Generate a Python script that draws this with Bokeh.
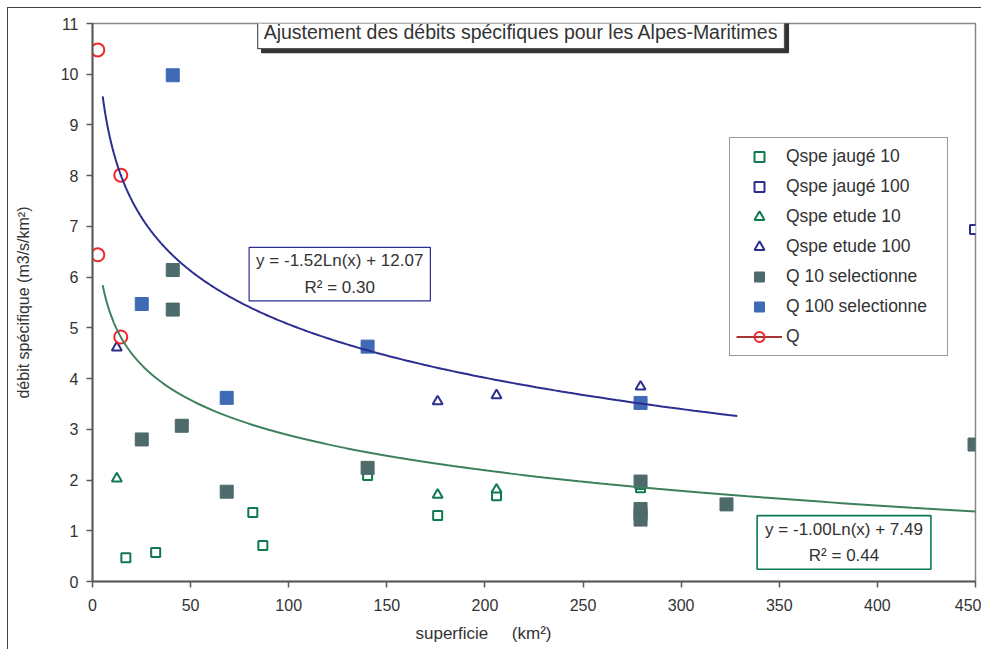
import numpy as np
from bokeh.plotting import figure
from bokeh.models import Range1d, FixedTicker, Legend, LegendItem, Label, Title
from bokeh.embed import file_html
from bokeh.resources import INLINE

FONT = "Liberation Sans"

# ---------------- data ----------------
jauge10_x = [17.0, 32.2, 81.7, 86.8, 140.2, 175.9, 205.9, 279.3]
jauge10_y = [0.47, 0.57, 1.36, 0.71, 2.09, 1.30, 1.69, 1.85]

jauge100_x = [449.5]
jauge100_y = [6.94]

etude10_x = [12.4, 175.9, 205.9, 279.3]
etude10_y = [2.03, 1.71, 1.81, 1.88]

etude100_x = [12.4, 175.9, 205.9, 279.3]
etude100_y = [4.61, 3.55, 3.67, 3.84]

q10_x = [25.1, 40.9, 40.9, 45.5, 68.4, 140.2, 279.3, 279.3, 279.3, 279.3, 323.1, 449.5]
q10_y = [2.80, 6.14, 5.36, 3.07, 1.77, 2.24, 1.97, 1.43, 1.33, 1.22, 1.52, 2.70]

q100_x = [25.1, 40.9, 68.4, 140.2, 279.3]
q100_y = [5.47, 9.98, 3.62, 4.63, 3.52]

q_x = [2.7, 14.4, 2.7, 14.4]
q_y = [10.48, 8.01, 6.44, 4.82]

# logarithmic trend lines as printed on the chart: y = a*Ln(x) + b
trend100_coef = [-1.52, 12.07]
trend100_span = [5.2, 328.6]
trend10_coef = [-1.00, 7.49]
trend10_span = [5.2, 450.0]

x_ticks = [0, 50, 100, 150, 200, 250, 300, 350, 400, 450]
y_ticks = [0, 1, 2, 3, 4, 5, 6, 7, 8, 9, 10, 11]

title_text = "Ajustement des débits spécifiques pour les Alpes-Maritimes"
eq100_text = "y = -1.52Ln(x) + 12.07\nR² = 0.30"
eq10_text = "y = -1.00Ln(x) + 7.49\nR² = 0.44"
xlabel_text = "superficie\u00a0\u00a0\u00a0\u00a0 (km²)"
ylabel_text = "débit spécifique (m3/s/km²)"

# ---------------- colours ----------------
GREEN = "#0E7A4E"
NAVY = "#2B2E8F"
DARK = "#4E6A6B"
BLUE = "#3F6AB5"
RED = "#F0262B"
TXT = "#333333"

p = figure(width=974, height=642, output_backend="svg", toolbar_location=None,
           x_range=Range1d(0, 450), y_range=Range1d(0, 11),
           min_border_left=84, min_border_right=7, min_border_top=15, min_border_bottom=68)
p.styles = {"border-left": "1px solid #444", "border-top": "1px solid #444",
            "margin-left": "7px", "margin-top": "7px"}

p.xgrid.visible = False
p.ygrid.visible = False
p.outline_line_color = "#8a8686"
p.outline_line_width = 1.5
p.background_fill_color = "white"
p.border_fill_color = "white"

for ax in (p.xaxis[0], p.yaxis[0]):
    ax.axis_line_color = "#5a5a5a"
    ax.axis_line_width = 2
    ax.major_tick_line_color = "#5a5a5a"
    ax.major_tick_line_width = 1.5
    ax.major_tick_out = 6
    ax.major_tick_in = 0
    ax.minor_tick_line_color = None
    ax.major_label_text_font = FONT
    ax.major_label_text_font_size = "16px"
    ax.major_label_text_color = TXT
p.xaxis.ticker = FixedTicker(ticks=x_ticks)
p.yaxis.ticker = FixedTicker(ticks=y_ticks)
p.xaxis.major_label_standoff = 11
p.yaxis.major_label_standoff = 8

p.yaxis.axis_label = ylabel_text
p.yaxis.axis_label_text_font = FONT
p.yaxis.axis_label_text_font_size = "16px"
p.yaxis.axis_label_text_font_style = "normal"
p.yaxis.axis_label_text_color = TXT
p.yaxis.axis_label_standoff = 26

p.add_layout(Title(text=xlabel_text, align="left", offset=323,
                   text_font=FONT, text_font_size="17px", text_font_style="normal",
                   text_color=TXT, standoff=16), "below")

# ---------------- markers ----------------
r_j10 = p.scatter(jauge10_x, jauge10_y, marker="square", size=9, line_color=GREEN,
                  line_width=2, fill_color="white")
r_j100 = p.scatter(jauge100_x, jauge100_y, marker="square", size=9, line_color=NAVY,
                   line_width=2, fill_color="white")
r_e10 = p.scatter(etude10_x, etude10_y, marker="triangle", size=10, line_color=GREEN,
                  line_width=2, fill_color="white")
r_e100 = p.scatter(etude100_x, etude100_y, marker="triangle", size=10, line_color=NAVY,
                   line_width=2, fill_color="white")
r_q10 = p.scatter(q10_x, q10_y, marker="square", size=13, line_color=DARK,
                  fill_color=DARK)
r_q100 = p.scatter(q100_x, q100_y, marker="square", size=13, line_color=BLUE,
                   fill_color=BLUE)
r_q = p.scatter(q_x, q_y, marker="circle", size=13, line_color=RED, line_width=2,
                fill_color=None)
r_qline = p.line(x=[0.0], y=[float("nan")], line_color="#A83434", line_width=2)

# ---------------- trend lines ----------------
tx100 = np.geomspace(trend100_span[0], trend100_span[1], 300)
p.line(tx100, trend100_coef[0] * np.log(tx100) + trend100_coef[1], line_color=NAVY, line_width=2)
tx10 = np.geomspace(trend10_span[0], trend10_span[1], 300)
p.line(tx10, trend10_coef[0] * np.log(tx10) + trend10_coef[1], line_color="#3E805C", line_width=2)

# ---------------- legend ----------------
legend = Legend(items=[
    LegendItem(label="Qspe jaugé 10", renderers=[r_j10]),
    LegendItem(label="Qspe jaugé 100", renderers=[r_j100]),
    LegendItem(label="Qspe etude 10", renderers=[r_e10]),
    LegendItem(label="Qspe etude 100", renderers=[r_e100]),
    LegendItem(label="Q 10 selectionne", renderers=[r_q10]),
    LegendItem(label="Q 100 selectionne", renderers=[r_q100]),
    LegendItem(label="Q", renderers=[r_qline, r_q]),
], location=(637, 225))
legend.margin = 0
legend.padding = 6
legend.spacing = 5
legend.glyph_width = 46
legend.glyph_height = 25
legend.label_standoff = 4
legend.label_width = 155
legend.label_text_font = FONT
legend.label_text_font_size = "17.5px"
legend.label_text_color = TXT
legend.border_line_color = "#333333"
legend.border_line_width = 1
legend.background_fill_color = "white"
legend.background_fill_alpha = 1
p.add_layout(legend)

# ---------------- text boxes ----------------
def box(x, y, text, border, size="17px", pad=5, lh=1.2, **kw):
    return Label(x=x, y=y, text=text, text_align="center", text_baseline="middle",
                 text_font=FONT, text_font_size=size, text_color=kw.get("tc", TXT),
                 text_line_height=lh,
                 background_fill_color=kw.get("bg", "white"), background_fill_alpha=1,
                 border_line_color=border, border_line_width=kw.get("bw", 1.2),
                 padding=pad, x_offset=kw.get("xo", 0), y_offset=kw.get("yo", 0))

p.add_layout(box(126.0, 6.06, eq100_text, NAVY, pad=(7, 4), lh=1.4))
p.add_layout(box(383.0, 0.77, eq10_text, GREEN, pad=(8, 4), lh=1.4, bw=1.6))

p.add_layout(box(218.4, 10.84, title_text, "#333333", size="19.5px", pad=6,
                 tc="#333333", bg="#333333", xo=4, yo=-4))
p.add_layout(box(218.4, 10.84, title_text, "#555555", size="19.5px", pad=6))

open("out.html", "w").write(file_html(p, INLINE))
